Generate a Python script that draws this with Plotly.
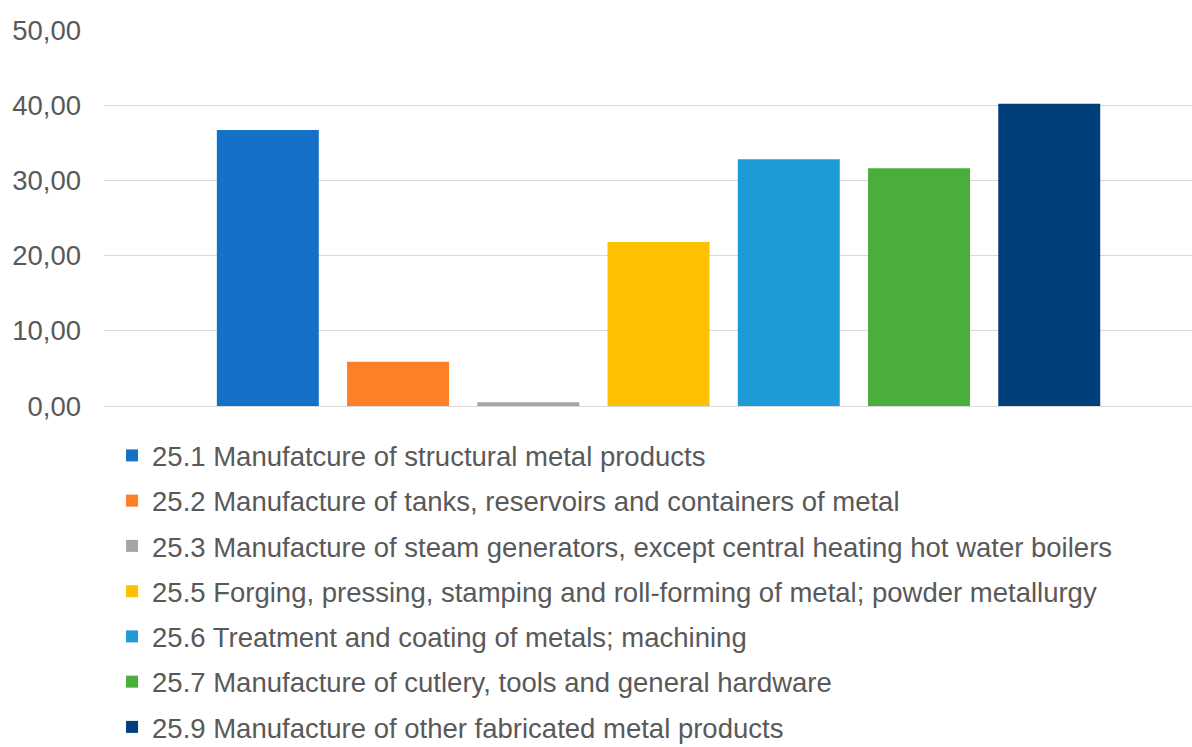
import plotly.graph_objects as go

# Share values per NACE group (decimal comma on the axis)
sectors = [
    "25.1 Manufatcure of structural metal products",
    "25.2 Manufacture of tanks, reservoirs and containers of metal",
    "25.3 Manufacture of steam generators, except central heating hot water boilers",
    "25.5 Forging, pressing, stamping and roll-forming of metal; powder metallurgy",
    "25.6 Treatment and coating of metals; machining",
    "25.7 Manufacture of cutlery, tools and general hardware",
    "25.9 Manufacture of other fabricated metal products",
]
values = [36.7, 5.9, 0.5, 21.8, 32.8, 31.6, 40.2]
colors = ["#1570C8", "#FD7F27", "#A5A5A5", "#FFC000", "#1E9BD7", "#4AAE3C", "#003F7A"]

category = [""]

fig = go.Figure()
for i, (name, val, col) in enumerate(zip(sectors, values, colors)):
    fig.add_trace(go.Bar(
        x=category, y=[val], name=name,
        marker=dict(color=col, line=dict(width=0)),
        legendgroup=f"g{i}",
    ))

text_font = dict(family="Liberation Sans, Arial, sans-serif", size=27.5, color="#595959")

fig.update_layout(
    barmode="group",
    bargap=0.178,
    bargroupgap=0.217,
    width=1192, height=747,
    margin=dict(l=104, r=0, t=30, b=341, autoexpand=False),
    paper_bgcolor="white",
    plot_bgcolor="white",
    font=text_font,
    showlegend=True,
    legend=dict(
        orientation="v",
        xref="container", x=0.094, xanchor="left",
        yref="container", y=0.423, yanchor="top",
        traceorder="grouped",
        tracegroupgap=6.5,
        font=text_font,
        bgcolor="rgba(0,0,0,0)",
    ),
    xaxis=dict(
        range=[-0.5, 0.481],
        showticklabels=False,
        showgrid=False,
        zeroline=False,
        showline=False,
        fixedrange=True,
    ),
    yaxis=dict(
        range=[0, 50],
        dtick=10,
        tickformat=".2f",
        showgrid=True,
        gridcolor="#D9D9D9",
        gridwidth=1,
        zeroline=True,
        zerolinecolor="#D9D9D9",
        zerolinewidth=1,
        showline=False,
        ticks="",
        ticklabelstandoff=22,
        tickfont=text_font,
    ),
    separators=",.",
)

fig.write_html("out.html")
